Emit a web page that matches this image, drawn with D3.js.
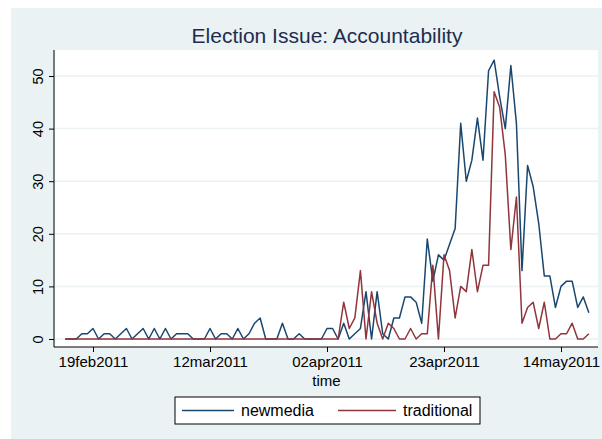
<!DOCTYPE html>
<html>
<head>
<meta charset="utf-8">
<script src="https://cdn.jsdelivr.net/npm/d3@7"></script>
<style>
  body { margin: 0; background: #fff; }
  text { font-family: "Liberation Sans", Arial, sans-serif; }
</style>
</head>
<body>
<script>
// daily counts, 14feb2011 .. 19may2011
const startDay = "2011-02-14";
const endDay = "2011-05-20";
const newmedia = [0, 0, 0, 1, 1, 2, 0, 1, 1, 0, 1, 2, 0, 1, 2, 0, 2, 0, 2, 0,
  1, 1, 1, 0, 0, 0, 2, 0, 1, 1, 0, 2, 0, 1, 3, 4, 0, 0, 0, 3,
  0, 0, 1, 0, 0, 0, 0, 2, 2, 0, 3, 0, 1, 2, 9, 0, 9, 1, 0, 4,
  4, 8, 8, 7, 3, 19, 11, 16, 15, 18, 21, 41, 30, 34, 42, 34, 51, 53, 46, 40,
  52, 41, 13, 33, 29, 22, 12, 12, 6, 10, 11, 11, 6, 8, 5];
const traditional = [0, 0, 0, 0, 0, 0, 0, 0, 0, 0, 0, 0, 0, 0, 0, 0, 0, 0, 0, 0,
  0, 0, 0, 0, 0, 0, 0, 0, 0, 0, 0, 0, 0, 0, 0, 0, 0, 0, 0, 0,
  0, 0, 0, 0, 0, 0, 0, 0, 0, 0, 7, 2, 4, 13, 0, 9, 3, 0, 3, 2,
  0, 0, 2, 0, 1, 1, 14, 0, 16, 13, 4, 10, 9, 17, 9, 14, 14, 47, 44, 35,
  17, 27, 3, 6, 7, 2, 7, 0, 0, 1, 1, 3, 0, 0, 1];
const xTicks = ["2011-02-19", "2011-03-12", "2011-04-02", "2011-04-23", "2011-05-14"];
const yTicks = [0, 10, 20, 30, 40, 50];
const seriesNames = ["newmedia", "traditional"];
const colors = ["#1a476f", "#90353b"];

const width = 602, height = 439;
const parse = d3.timeParse("%Y-%m-%d");
const fmt = d3.timeFormat("%d%b%Y");
const days = d3.timeDay.range(parse(startDay), parse(endDay));

const svg = d3.select("body").append("svg")
  .attr("width", width)
  .attr("height", height);

// graph region + plot region
svg.append("rect").attr("x", 11).attr("y", 8).attr("width", width - 11).attr("height", height - 8)
  .attr("fill", "#eaf2f3");
svg.append("rect").attr("x", 55).attr("y", 50).attr("width", 543).attr("height", 297)
  .attr("fill", "#fff");

const x = d3.scaleTime()
  .domain([parse(xTicks[0]), parse(xTicks[4])])
  .range([93, 561]);
const y = d3.scaleLinear()
  .domain([0, 50])
  .range([339, 76]);

// grid
svg.append("g").selectAll("line")
  .data(yTicks)
  .join("line")
  .attr("x1", 55).attr("x2", 598)
  .attr("y1", d => y(d)).attr("y2", d => y(d))
  .attr("stroke", "#eaf2f3")
  .attr("stroke-width", 1.5);

// axes
const yaxis = d3.axisLeft(y).tickValues(yTicks).tickSize(5);
const gy = svg.append("g").attr("transform", "translate(54,0)").call(yaxis);
gy.select(".domain").attr("d", "M0,50V347");
gy.selectAll(".tick text")
  .attr("font-size", 14.5)
  .attr("fill", "#000")
  .attr("text-anchor", "middle")
  .attr("dy", 0)
  .attr("x", 0).attr("y", -11)
  .attr("transform", "rotate(-90)");

const xaxis = d3.axisBottom(x)
  .tickValues(xTicks.map(parse))
  .tickFormat(d => fmt(d).toLowerCase())
  .tickSize(5).tickPadding(4);
const gx = svg.append("g").attr("transform", "translate(0,347)").call(xaxis);
gx.select(".domain").attr("d", "M54,0H598");
gx.selectAll(".tick text")
  .attr("font-size", 15)
  .attr("fill", "#000");

svg.append("text")
  .attr("x", 326.5).attr("y", 386)
  .attr("text-anchor", "middle")
  .attr("font-size", 15)
  .text("time");

svg.append("text")
  .attr("x", 327).attr("y", 43)
  .attr("text-anchor", "middle")
  .attr("font-size", 21)
  .attr("fill", "#1e2d4f")
  .text("Election Issue: Accountability");

// lines
const line = d3.line()
  .x((d, i) => x(days[i]))
  .y(d => y(d));
[newmedia, traditional].forEach((s, k) => {
  svg.append("path")
    .datum(s)
    .attr("d", line)
    .attr("fill", "none")
    .attr("stroke", colors[k])
    .attr("stroke-width", 1.5)
    .attr("stroke-linejoin", "round");
});

// legend
const lg = svg.append("g");
lg.append("rect").attr("x", 175).attr("y", 397).attr("width", 305).attr("height", 27)
  .attr("fill", "#fff").attr("stroke", "#000").attr("stroke-width", 1);
const items = [{x0: 182, x1: 234, tx: 241}, {x0: 338, x1: 396, tx: 403}];
items.forEach((it, k) => {
  lg.append("line").attr("x1", it.x0).attr("x2", it.x1).attr("y1", 410.5).attr("y2", 410.5)
    .attr("stroke", colors[k]).attr("stroke-width", 1.5);
  lg.append("text").attr("x", it.tx).attr("y", 416)
    .attr("font-size", 16)
    .text(seriesNames[k]);
});
</script>
</body>
</html>
